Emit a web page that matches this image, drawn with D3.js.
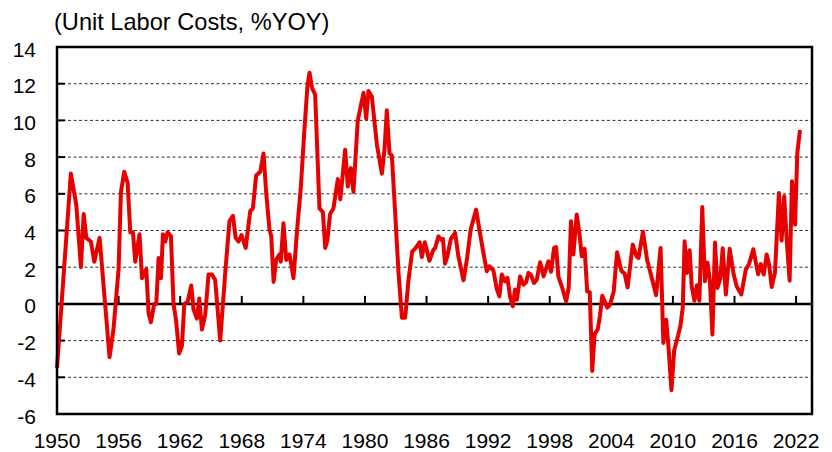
<!DOCTYPE html>
<html>
<head>
<meta charset="utf-8">
<script src="https://cdn.jsdelivr.net/npm/d3@7"></script>
<style>
  html, body { margin: 0; padding: 0; background: #fff; }
  svg { display: block; }
  text { font-family: "Liberation Sans", Arial, sans-serif; fill: #000; }
</style>
</head>
<body>
<svg id="chart" width="832" height="452"></svg>
<script>
// ---- Data ----
const title = "(Unit Labor Costs, %YOY)";
const yTickValues = [-6, -4, -2, 0, 2, 4, 6, 8, 10, 12, 14];
const xTickLabels = ["1950","1956","1962","1968","1974","1980","1986","1992","1998","2004","2010","2016","2022"];

const years = [
  1950.0, 1951.35, 1951.88, 1952.33, 1952.6, 1952.85, 1953.3, 1953.63, 1954.15, 1955.12,
  1955.5, 1956.0, 1956.23, 1956.55, 1956.88, 1957.14, 1957.4, 1957.62, 1958.04, 1958.28,
  1958.7, 1958.92, 1959.15, 1959.47, 1959.67, 1959.9, 1960.13, 1960.32, 1960.55, 1960.77,
  1961.1, 1961.35, 1961.6, 1961.9, 1962.17, 1962.4, 1962.72, 1963.08, 1963.3, 1963.63,
  1963.86, 1964.12, 1964.44, 1964.76, 1965.1, 1965.41, 1965.9, 1966.39, 1966.8, 1967.14,
  1967.4, 1967.68, 1967.98, 1968.38, 1968.82, 1969.08, 1969.4, 1969.8, 1970.12, 1970.38,
  1970.7, 1970.87, 1971.1, 1971.35, 1971.68, 1971.8, 1972.06, 1972.33, 1972.65, 1973.04,
  1973.37, 1973.76, 1974.08, 1974.4, 1974.6, 1974.83, 1975.15, 1975.57, 1975.9, 1976.13,
  1976.35, 1976.6, 1976.93, 1977.36, 1977.6, 1978.07, 1978.33, 1978.63, 1978.88, 1979.3,
  1979.86, 1980.12, 1980.34, 1980.67, 1981.16, 1981.65, 1981.9, 1982.13, 1982.39, 1982.62,
  1982.94, 1983.27, 1983.6, 1983.92, 1984.24, 1984.6, 1984.95, 1985.33, 1985.54, 1985.83,
  1986.28, 1986.67, 1986.84, 1987.16, 1987.4, 1987.6, 1987.8, 1988.03, 1988.37, 1988.78,
  1989.1, 1989.6, 1989.93, 1990.3, 1990.83, 1991.2, 1991.54, 1991.87, 1992.12, 1992.51,
  1992.84, 1993.1, 1993.33, 1993.65, 1993.88, 1994.14, 1994.4, 1994.62, 1994.8, 1995.12,
  1995.43, 1995.7, 1995.92, 1996.15, 1996.47, 1996.74, 1997.06, 1997.4, 1997.87, 1998.13,
  1998.42, 1998.62, 1998.84, 1999.17, 1999.6, 1999.85, 2000.07, 2000.3, 2000.63, 2000.9,
  2001.12, 2001.4, 2001.65, 2001.9, 2002.14, 2002.37, 2002.68, 2002.9, 2003.12, 2003.6,
  2003.87, 2004.23, 2004.56, 2004.98, 2005.3, 2005.58, 2006.09, 2006.45, 2006.65, 2007.08,
  2007.5, 2007.94, 2008.36, 2008.8, 2009.07, 2009.34, 2009.56, 2009.86, 2010.12, 2010.45,
  2010.73, 2010.96, 2011.14, 2011.37, 2011.63, 2011.83, 2012.1, 2012.34, 2012.58, 2012.86,
  2013.12, 2013.37, 2013.6, 2013.85, 2014.1, 2014.34, 2014.62, 2014.85, 2015.16, 2015.53,
  2015.92, 2016.21, 2016.66, 2017.1, 2017.42, 2017.83, 2018.3, 2018.56, 2018.85, 2019.13,
  2019.39, 2019.62, 2019.94, 2020.33, 2020.59, 2020.84, 2021.09, 2021.37, 2021.6, 2021.9,
  2022.12, 2022.38
];

const ulcYoY = [
  -3.5, 7.1, 5.4, 2.0, 4.9, 3.6, 3.4, 2.3, 3.6, -2.9,
  -1.4, 1.9, 6.1, 7.2, 6.6, 3.9, 3.9, 2.3, 3.8, 1.4,
  1.9, -0.5, -1.0, 0.0, 0.0, 2.5, 1.4, 3.8, 3.4, 3.9,
  3.7, 0.0, -0.9, -2.7, -2.3, 0.0, 0.1, 1.0, -0.3, -0.8,
  0.3, -1.4, -0.6, 1.6, 1.6, 1.3, -2.0, 1.7, 4.5, 4.8,
  3.6, 3.4, 3.75, 3.05, 5.05, 5.2, 7.0, 7.2, 8.2, 6.05,
  4.05, 3.7, 1.2, 2.4, 2.7, 2.3, 4.4, 2.4, 2.7, 1.4,
  3.9, 6.4, 9.3, 11.9, 12.6, 11.8, 11.4, 5.2, 5.0, 3.05,
  3.5, 4.9, 5.2, 6.8, 5.7, 8.4, 6.4, 7.4, 6.1, 10.0,
  11.5, 10.1, 11.6, 11.3, 8.7, 7.1, 8.4, 10.55, 8.2, 8.1,
  5.0, 1.7, -0.75, -0.75, 1.3, 2.85, 3.05, 3.36, 2.55, 3.36,
  2.35, 2.96, 3.05, 3.68, 3.5, 3.54, 2.2, 2.6, 3.54, 3.87,
  2.6, 1.29, 2.41, 4.05, 5.14, 3.87, 2.78, 1.78, 2.05, 1.83,
  0.82, 0.41, 1.6, 1.23, 1.42, 0.38, -0.13, 0.78, 0.23, 1.5,
  1.05, 1.18, 1.69, 1.6, 1.14, 1.32, 2.27, 1.5, 2.32, 1.75,
  3.05, 3.1, 1.5, 0.96, 0.14, 0.9, 4.5, 2.69, 4.87, 3.8,
  2.6, 3.0, 0.68, 0.64, -3.65, -1.65, -1.38, -0.62, 0.45, -0.2,
  -0.05, 0.66, 2.81, 1.8, 1.65, 0.9, 3.23, 2.6, 2.5, 3.93,
  2.36, 1.42, 0.48, 3.05, -2.13, -0.86, -2.27, -4.7, -2.54, -1.85,
  -1.2, -0.2, 3.41, 1.69, 2.92, 0.95, 0.17, 1.02, 0.17, 5.28,
  1.23, 2.25, 1.27, -1.67, 3.34, 0.87, 1.4, 3.03, 0.51, 3.0,
  1.6, 0.96, 0.51, 1.87, 2.18, 2.98, 1.62, 2.17, 1.6, 2.69,
  2.09, 0.92, 1.69, 6.05, 3.45, 5.86, 3.45, 1.27, 6.68, 4.32,
  8.23, 9.48
];

// ---- Layout ----
const plot = { left: 57, top: 47, right: 812, bottom: 414 };
const svg = d3.select("#chart");

const x = d3.scaleLinear().domain([1950, 2023.55]).range([plot.left, plot.right]);
const y = d3.scaleLinear().domain([-6, 14]).range([plot.bottom, plot.top]);

const data = years.map((t, i) => ({ t, v: ulcYoY[i] }));

// Gridlines (dashed)
svg.append("g")
  .selectAll("line")
  .data(yTickValues.filter(d => d !== 0 && d !== -6 && d !== 14))
  .join("line")
  .attr("x1", plot.left).attr("x2", plot.right)
  .attr("y1", d => y(d)).attr("y2", d => y(d))
  .attr("stroke", "#333")
  .attr("stroke-width", 1)
  .attr("stroke-dasharray", "3,2.5");

// Y axis labels
svg.append("g")
  .selectAll("text")
  .data(yTickValues)
  .join("text")
  .attr("x", 36)
  .attr("y", d => y(d) + 9.5)
  .attr("text-anchor", "end")
  .attr("font-size", 21)
  .text(d => d);

// Y tick marks (inside)
svg.append("g")
  .selectAll("line")
  .data(yTickValues)
  .join("line")
  .attr("x1", plot.left).attr("x2", plot.left + 8)
  .attr("y1", d => y(d)).attr("y2", d => y(d))
  .attr("stroke", "#000")
  .attr("stroke-width", 2);

// Zero line
svg.append("line")
  .attr("x1", plot.left).attr("x2", plot.right)
  .attr("y1", y(0)).attr("y2", y(0))
  .attr("stroke", "#000")
  .attr("stroke-width", 2.5);

// X tick marks on zero line (pointing up)
const xTickYears = xTickLabels.map(Number);
svg.append("g")
  .selectAll("line")
  .data(xTickYears)
  .join("line")
  .attr("x1", d => x(d)).attr("x2", d => x(d))
  .attr("y1", y(0)).attr("y2", y(0) - 8)
  .attr("stroke", "#000")
  .attr("stroke-width", 2);

// X labels
svg.append("g")
  .selectAll("text")
  .data(xTickLabels)
  .join("text")
  .attr("x", d => x(+d))
  .attr("y", 447.5)
  .attr("text-anchor", "middle")
  .attr("font-size", 21)
  .text(d => d);

// Data line
const line = d3.line().x(d => x(d.t)).y(d => y(d.v));
svg.append("path")
  .datum(data)
  .attr("d", line)
  .attr("fill", "none")
  .attr("stroke", "#e60000")
  .attr("stroke-width", 4)
  .attr("stroke-linejoin", "round")
  .attr("stroke-linecap", "butt");

// Frame
svg.append("rect")
  .attr("x", plot.left).attr("y", plot.top)
  .attr("width", plot.right - plot.left)
  .attr("height", plot.bottom - plot.top)
  .attr("fill", "none")
  .attr("stroke", "#000")
  .attr("stroke-width", 2.5);

// Title
svg.append("text")
  .attr("x", 54)
  .attr("y", 29.5)
  .attr("font-size", 23.6)
  .text(title);
</script>
</body>
</html>
